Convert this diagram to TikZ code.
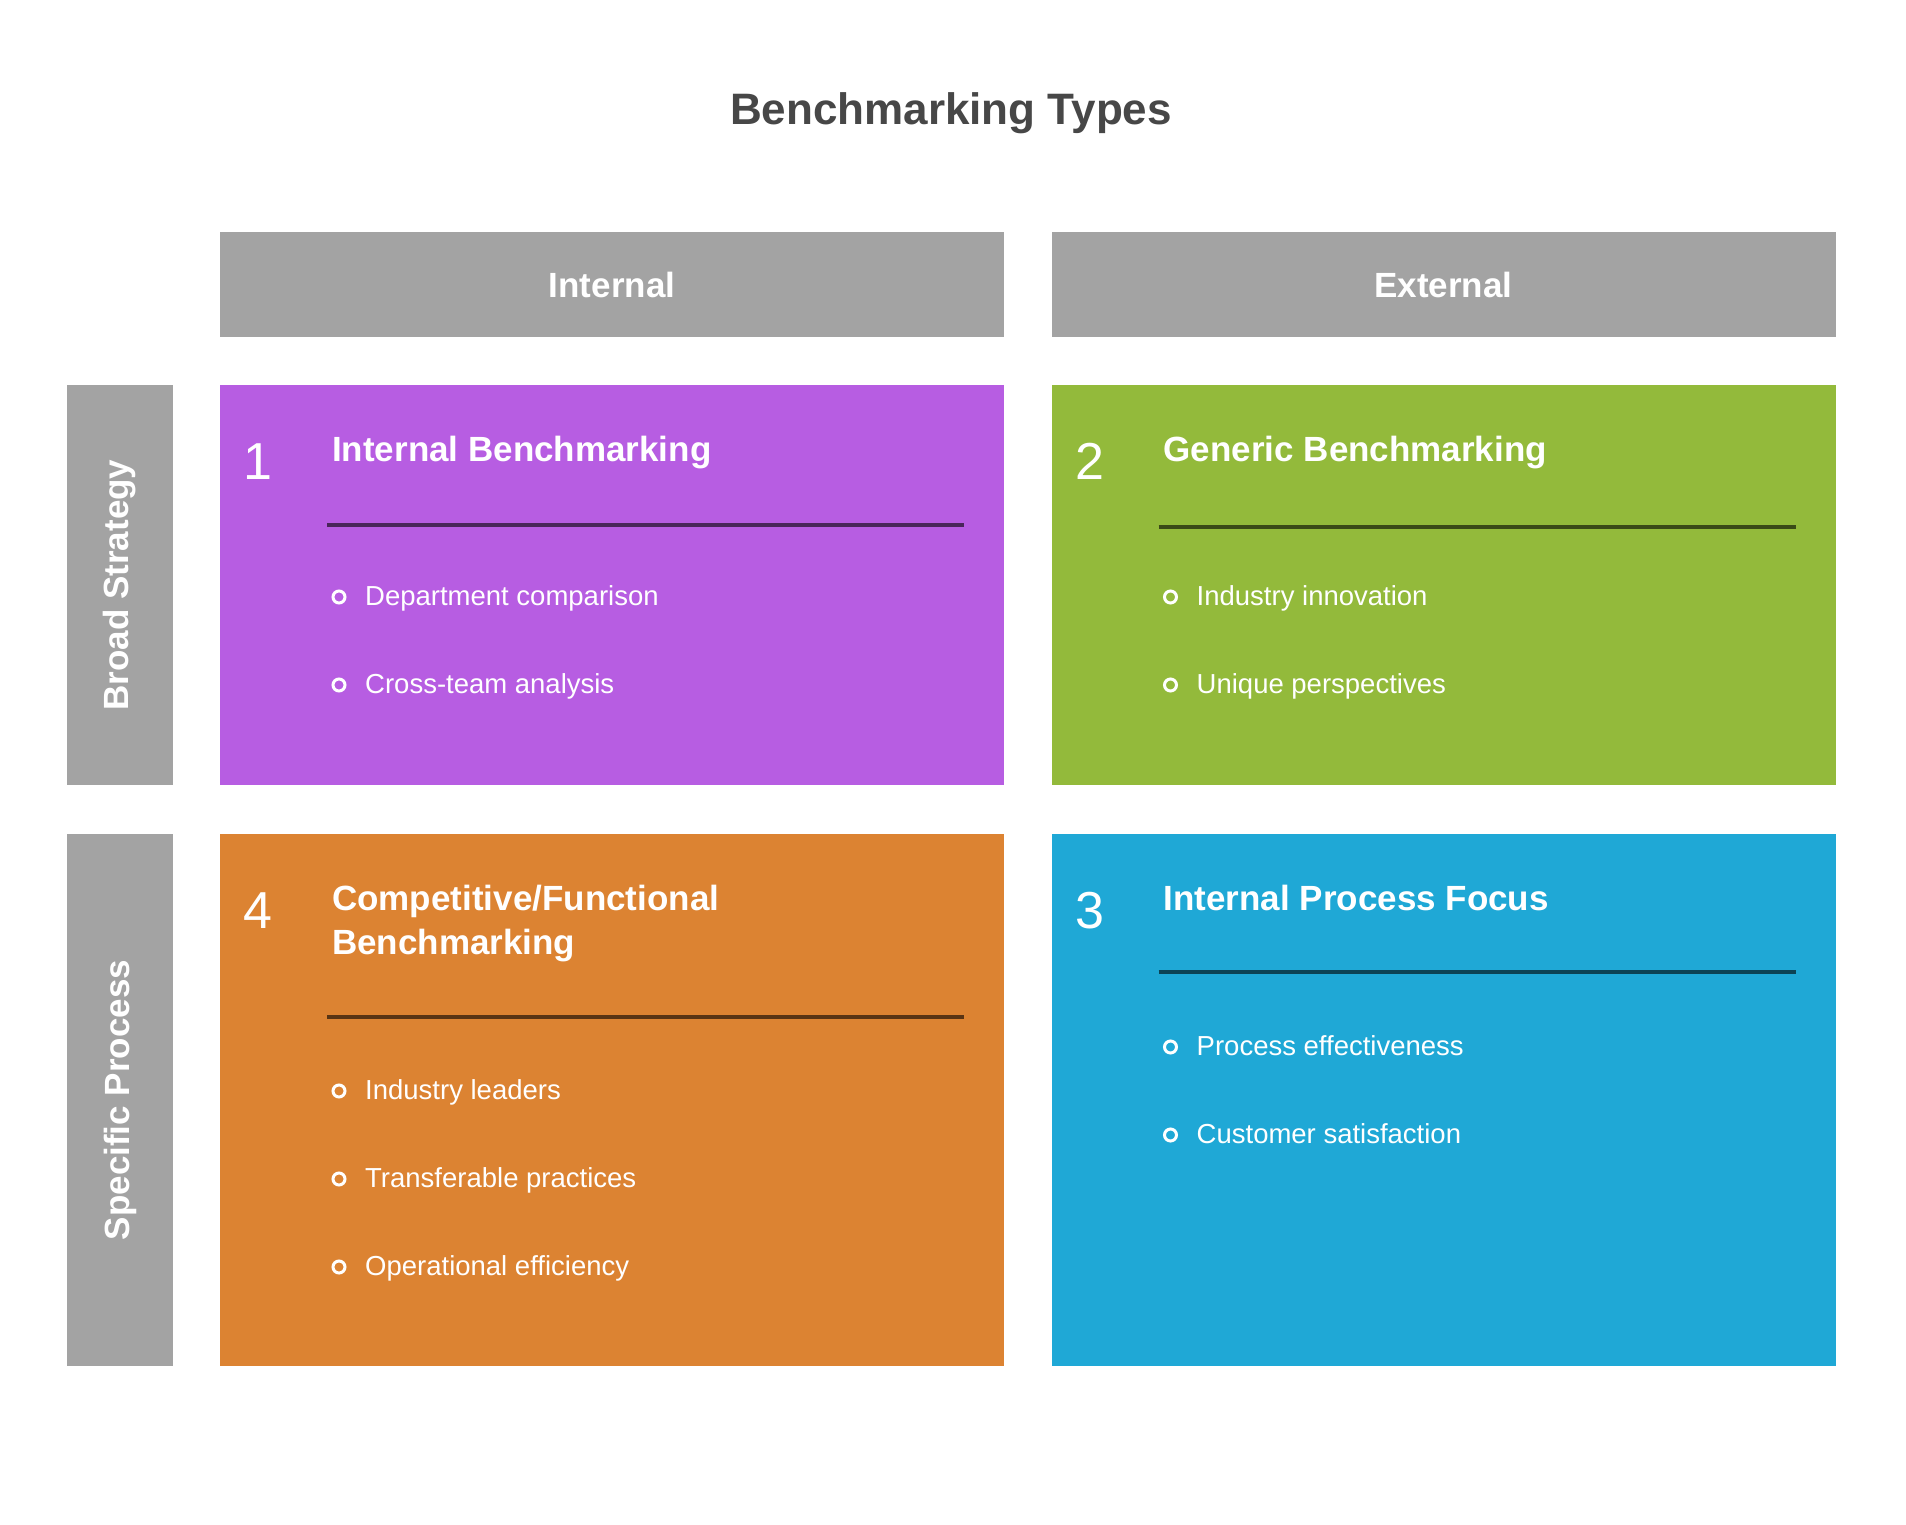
\documentclass[tikz,border=0pt]{standalone}
\usepackage{fontspec}
\setmainfont{Liberation Sans}
\definecolor{cpurple}{HTML}{B75DE2}
\definecolor{cgreen}{HTML}{93BA3B}
\definecolor{corange}{HTML}{DC8332}
\definecolor{cblue}{HTML}{1FA8D6}
\definecolor{cgray}{HTML}{A3A3A3}
\definecolor{ctitle}{HTML}{474747}
\tikzset{
  panel/.style={fill=#1, draw=none, inner sep=0pt},
  hdrtext/.style={text=white, font=\bfseries\fontsize{35}{40}\selectfont},
  numtext/.style={text=white, anchor=base, font=\fontsize{52}{56}\selectfont},
  boxtitle/.style={text=white, anchor=base west, align=left, inner sep=0pt, font=\bfseries\fontsize{35}{44}\selectfont},
  divider/.style={draw=black, draw opacity=0.6, line width=3.5pt},
  bulletdot/.style={circle, draw=white, line width=3pt, minimum size=12pt, inner sep=0pt},
  itemtext/.style={text=white, anchor=base west, inner sep=0pt, font=\fontsize{27.5}{32}\selectfont}
}
\newcommand{\myitem}[4]{%
  \node[bulletdot] (#1dot) at (#2+119, #3-8) {};
  \node[itemtext] (#1txt) at (#2+145, #3) {#4};
}
\begin{document}
\begin{tikzpicture}[x=1pt,y=-1pt]
\useasboundingbox[fill=white] (0,0) rectangle (1906,1524);

% title
\node[text=ctitle, font=\bfseries\fontsize{44}{50}\selectfont] (title) at (951,113) {Benchmarking Types};

% column headers
\node[panel=cgray, minimum width=784pt, minimum height=105pt] (hint) at (612,284.5) {};
\node[hdrtext] (hinttxt) at (hint.center) {Internal};
\node[panel=cgray, minimum width=784pt, minimum height=105pt] (hext) at (1443.5,284.5) {};
\node[hdrtext] (hexttxt) at (hext.center) {External};

% row labels
\node[panel=cgray, minimum width=106pt, minimum height=400pt] (rbroad) at (120,585) {};
\node[hdrtext, rotate=90] (rbroadtxt) at (rbroad.center) {Broad Strategy};
\node[panel=cgray, minimum width=106pt, minimum height=532pt] (rspec) at (120,1100) {};
\node[hdrtext, rotate=90] (rspectxt) at (rspec.center) {Specific Process};

% panels
\node[panel=cpurple, minimum width=784pt, minimum height=400pt] (b1) at (612,585) {};
\node[panel=cgreen, minimum width=784pt, minimum height=400pt] (b2) at (1443.5,585) {};
\node[panel=corange, minimum width=784pt, minimum height=532pt] (b4) at (612,1100) {};
\node[panel=cblue, minimum width=784pt, minimum height=532pt] (b3) at (1443.5,1100) {};

% box 1
\node[numtext] (n1) at (258,479) {1};
\node[boxtitle] (t1) at (332,461) {Internal Benchmarking};
\coordinate (l1a) at (327,525); \coordinate (l1b) at (964,525);
\draw[divider] (l1a) -- (l1b);
\myitem{a1}{220}{605}{Department comparison}
\myitem{a2}{220}{693}{Cross-team analysis}

% box 2
\node[numtext] (n2) at (1090,479) {2};
\node[boxtitle] (t2) at (1163.5,461) {Generic Benchmarking};
\coordinate (l2a) at (1158.5,527); \coordinate (l2b) at (1795.5,527);
\draw[divider] (l2a) -- (l2b);
\myitem{c1}{1051.5}{605}{Industry innovation}
\myitem{c2}{1051.5}{693}{Unique perspectives}

% box 4
\node[numtext] (n4) at (258,928) {4};
\node[boxtitle] (t4) at (332,954.5) {Competitive/Functional\\Benchmarking};
\coordinate (l4a) at (327,1017); \coordinate (l4b) at (964,1017);
\draw[divider] (l4a) -- (l4b);
\myitem{d1}{220}{1099}{Industry leaders}
\myitem{d2}{220}{1187}{Transferable practices}
\myitem{d3}{220}{1275}{Operational efficiency}

% box 3
\node[numtext] (n3) at (1090,928) {3};
\node[boxtitle] (t3) at (1163.5,910) {Internal Process Focus};
\coordinate (l3a) at (1158.5,972); \coordinate (l3b) at (1795.5,972);
\draw[divider] (l3a) -- (l3b);
\myitem{e1}{1051.5}{1055}{Process effectiveness}
\myitem{e2}{1051.5}{1143}{Customer satisfaction}
\end{tikzpicture}
\end{document}
